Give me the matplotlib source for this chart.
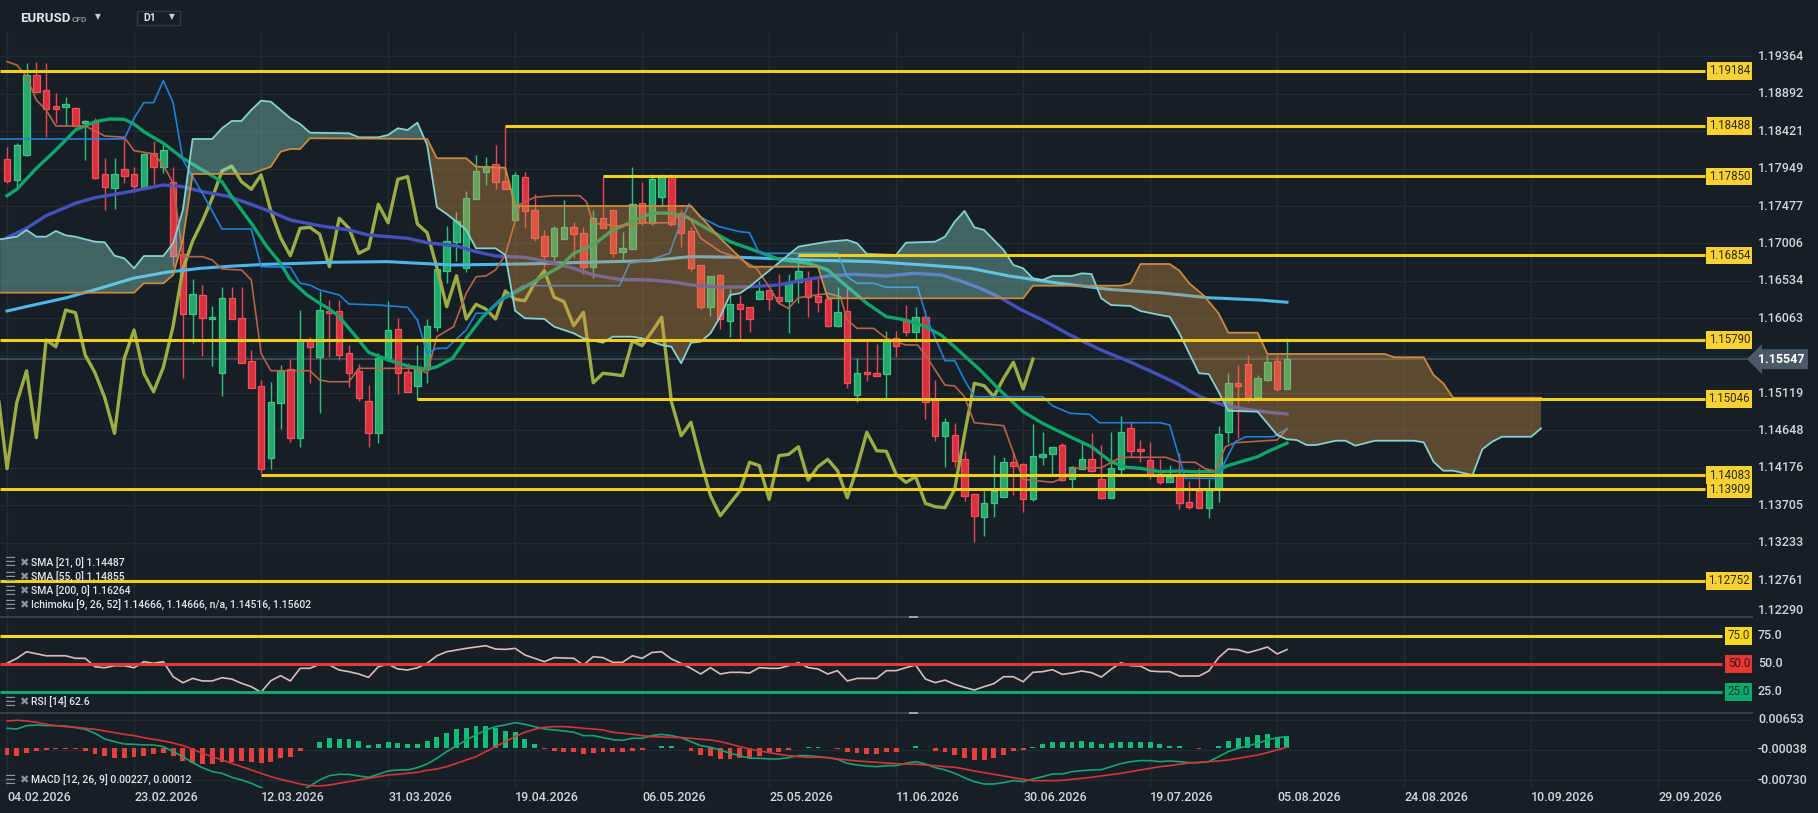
import numpy as np
import matplotlib
matplotlib.use("Agg")
import matplotlib.pyplot as plt
from matplotlib.patches import Rectangle
from matplotlib.transforms import blended_transform_factory

plt.rcParams["font.family"] = ["Roboto", "DejaVu Sans"]

W, H = 1818, 813
BG = "#171f26"
GRID = "#212b33"
TXT = "#d2d6da"

# ---------------- data ----------------
opens = [1.18071, 1.17810, 1.18125, 1.19130, 1.18937, 1.18739, 1.18730, 1.18710, 1.18521, 1.18537,
         1.17878, 1.17709, 1.17945, 1.17882, 1.17721, 1.18143, 1.17974, 1.17781, 1.16873, 1.16112,
         1.16352, 1.16049, 1.15368, 1.16314, 1.16062, 1.15523, 1.15208, 1.14296, 1.14990, 1.15418,
         1.14556, 1.15788, 1.15577, 1.16154, 1.16154, 1.15620, 1.15397, 1.15019, 1.14619, 1.15557,
         1.15923, 1.15381, 1.15212, 1.15418, 1.15948, 1.16662, 1.17020, 1.16692, 1.17562, 1.17903,
         1.18011, 1.17793, 1.17301, 1.17840, 1.17428, 1.17100, 1.16851, 1.17058, 1.17209, 1.17134,
         1.16712, 1.17323, 1.17428, 1.16902, 1.16932, 1.17512, 1.17267, 1.17595, 1.17856, 1.17393,
         1.17163, 1.16734, 1.16208, 1.16608, 1.16031, 1.16238, 1.16200, 1.16301, 1.16419, 1.16327,
         1.16284, 1.16516, 1.16545, 1.16343, 1.16305, 1.15968, 1.16154, 1.15094, 1.15388, 1.15368,
         1.15355, 1.15809, 1.16028, 1.15893, 1.16074, 1.15031, 1.14581, 1.14590, 1.14283, 1.13842,
         1.13559, 1.13728, 1.13812, 1.14246, 1.14224, 1.13779, 1.14316, 1.14346, 1.14460, 1.14031,
         1.14161, 1.14283, 1.14031, 1.13799, 1.14161, 1.14674, 1.14410, 1.14275, 1.14094, 1.13993,
         1.14094, 1.13741, 1.13884, 1.13673, 1.13909, 1.14631, 1.15242, 1.15481, 1.15073, 1.15283,
         1.15523, 1.15170]
highs = [1.18226, 1.18269, 1.19278, 1.19290, 1.19278, 1.18899, 1.18849, 1.18723, 1.18563, 1.18584,
         1.18080, 1.18080, 1.18344, 1.17966, 1.18134, 1.18302, 1.18269, 1.17966, 1.17071, 1.16554,
         1.16482, 1.16217, 1.16453, 1.16453, 1.16453, 1.15662, 1.15283, 1.15262, 1.15473, 1.15545,
         1.16166, 1.15830, 1.16410, 1.16292, 1.16292, 1.15725, 1.15485, 1.15220, 1.15628, 1.16280,
         1.16062, 1.15494, 1.15725, 1.16049, 1.16683, 1.17230, 1.17406, 1.17667, 1.18121, 1.18100,
         1.18247, 1.18488, 1.17911, 1.17911, 1.17629, 1.17175, 1.17226, 1.17554, 1.17280, 1.17209,
         1.17428, 1.17850, 1.17428, 1.17154, 1.17966, 1.17784, 1.17882, 1.17882, 1.17882, 1.17428,
         1.17217, 1.16734, 1.16599, 1.16620, 1.16427, 1.16356, 1.16200, 1.16532, 1.16419, 1.16620,
         1.16620, 1.16854, 1.16662, 1.16566, 1.16343, 1.16460, 1.16460, 1.15557, 1.15788, 1.15738,
         1.15901, 1.15901, 1.16229, 1.16208, 1.16166, 1.15284, 1.14808, 1.14737, 1.14388, 1.13842,
         1.13884, 1.14338, 1.14309, 1.14379, 1.14240, 1.14725, 1.14624, 1.14442, 1.14485, 1.14199,
         1.14505, 1.14611, 1.14464, 1.14624, 1.14829, 1.14758, 1.14527, 1.14498, 1.14287, 1.14211,
         1.14359, 1.14010, 1.14177, 1.14035, 1.14707, 1.15368, 1.15473, 1.15599, 1.15347, 1.15599,
         1.15599, 1.15809]
lows = [1.17764, 1.17701, 1.18109, 1.18899, 1.18344, 1.18529, 1.18487, 1.18478, 1.18058, 1.17818,
        1.17428, 1.17440, 1.17764, 1.17658, 1.17721, 1.17743, 1.17898, 1.16725, 1.15312, 1.15754,
        1.15590, 1.15464, 1.15085, 1.16049, 1.15502, 1.15186, 1.14114, 1.14157, 1.14666, 1.14505,
        1.14442, 1.15249, 1.14864, 1.15577, 1.15536, 1.15199, 1.15022, 1.14442, 1.14485, 1.15557,
        1.15103, 1.15136, 1.15046, 1.15249, 1.15905, 1.16503, 1.16784, 1.16649, 1.17562, 1.17743,
        1.17689, 1.17689, 1.17301, 1.17204, 1.17040, 1.16700, 1.16784, 1.17058, 1.16818, 1.16620,
        1.16566, 1.17197, 1.16831, 1.16775, 1.16932, 1.17238, 1.17238, 1.17491, 1.17226, 1.16965,
        1.16658, 1.16179, 1.16094, 1.15927, 1.15830, 1.15775, 1.15893, 1.16301, 1.16166, 1.16242,
        1.15872, 1.16258, 1.16074, 1.16145, 1.15956, 1.15956, 1.15179, 1.15010, 1.15275, 1.15338,
        1.15053, 1.15577, 1.15842, 1.15759, 1.14788, 1.14518, 1.14190, 1.14190, 1.13761, 1.13244,
        1.13320, 1.13552, 1.13812, 1.13833, 1.13622, 1.13761, 1.14211, 1.14094, 1.14010, 1.13925,
        1.14161, 1.14127, 1.13779, 1.13791, 1.14094, 1.14309, 1.14253, 1.14031, 1.13972, 1.13993,
        1.13653, 1.13653, 1.13665, 1.13539, 1.13749, 1.14485, 1.14556, 1.15010, 1.15060, 1.15271,
        1.15149, 1.15170]
closes = [1.17797, 1.18244, 1.19130, 1.18920, 1.18705, 1.18705, 1.18764, 1.18491, 1.18550, 1.17835,
          1.17721, 1.17878, 1.17860, 1.17730, 1.18134, 1.17974, 1.18184, 1.16851, 1.16112, 1.16364,
          1.16062, 1.16078, 1.16314, 1.16049, 1.15502, 1.15186, 1.14165, 1.15002, 1.15401, 1.14556,
          1.15788, 1.15703, 1.16166, 1.16132, 1.15599, 1.15376, 1.15060, 1.14611, 1.15557, 1.15914,
          1.15368, 1.15136, 1.15444, 1.15965, 1.16683, 1.17037, 1.17289, 1.17575, 1.17919, 1.17982,
          1.17784, 1.17689, 1.17869, 1.17415, 1.17078, 1.16851, 1.17197, 1.17209, 1.17121, 1.16712,
          1.17323, 1.17197, 1.16881, 1.16944, 1.17499, 1.17267, 1.17815, 1.17848, 1.17251, 1.17141,
          1.16700, 1.16208, 1.16599, 1.16053, 1.16238, 1.16179, 1.16053, 1.16406, 1.16301, 1.16284,
          1.16503, 1.16662, 1.16327, 1.16271, 1.15968, 1.16137, 1.15249, 1.15368, 1.15355, 1.15338,
          1.15775, 1.15716, 1.15893, 1.16074, 1.15010, 1.14581, 1.14750, 1.14266, 1.13824, 1.13572,
          1.13728, 1.13884, 1.14246, 1.14203, 1.13779, 1.14329, 1.14346, 1.14442, 1.14022, 1.14190,
          1.14283, 1.14140, 1.13799, 1.14177, 1.14624, 1.14392, 1.14384, 1.14094, 1.13993, 1.14064,
          1.13728, 1.13686, 1.13673, 1.13909, 1.14599, 1.15242, 1.15212, 1.15073, 1.15305, 1.15507,
          1.15170, 1.15547]

sma21_x = [0, 1, 3, 5, 7, 9, 10.5, 12, 13, 14, 16, 18, 20, 22, 23, 25, 26.6, 28, 29, 30.7,
           32, 33, 34, 36, 37, 39, 41, 43, 44, 45.6, 47, 48.7, 50.5, 52.5, 54.5, 56.6, 58, 60, 62, 64,
           66, 68, 69.5, 71.6, 74, 76.4, 79, 82, 84, 86, 88, 90, 92, 94, 95.6, 97, 99.6, 101.6, 104, 106,
           108.8, 111, 113, 114.6, 116, 118, 120, 121.4, 123.8, 124.8, 128, 129, 131]
sma21 = [1.17608, 1.17689, 1.17953, 1.18184, 1.18436, 1.18541, 1.18575, 1.18571, 1.18512, 1.18415,
         1.18269, 1.18080, 1.17932, 1.17784, 1.17595, 1.17260, 1.16965, 1.16755, 1.16545, 1.16356,
         1.16251, 1.16178, 1.16082, 1.15788, 1.15633, 1.15536, 1.15460, 1.15418, 1.15451, 1.15557,
         1.15809, 1.16082, 1.16292, 1.16419, 1.16566, 1.16712, 1.16881, 1.16986, 1.17175, 1.17280,
         1.17390, 1.17386, 1.17343, 1.17197, 1.17028, 1.16923, 1.16806, 1.16755, 1.16671, 1.16460,
         1.16251, 1.16082, 1.16040, 1.15956, 1.15851, 1.15700, 1.15409, 1.15157, 1.14884, 1.14737,
         1.14568, 1.14442, 1.14253, 1.14182, 1.14170, 1.14127, 1.14136, 1.14127, 1.14127, 1.14199,
         1.14316, 1.14379, 1.14487]

sma55_x = [0, 2, 4, 7, 9, 12, 16, 18, 20, 22.5, 24.5, 27, 29, 32, 35, 37, 41, 43, 46, 48,
           50, 53, 55, 58, 60, 62.6, 65.7, 68, 70, 73, 76, 79, 81, 84, 86.6, 90, 92.8, 95.6, 97.5, 99.6,
           101.6, 103.7, 106, 108.8, 111.8, 114.9, 117.3, 119.7, 122.1, 124.5, 126.8, 129.2, 131]
sma55 = [1.17078, 1.17197, 1.17356, 1.17512, 1.17583, 1.17646, 1.17743, 1.17722, 1.17658, 1.17604,
         1.17520, 1.17406, 1.17301, 1.17229, 1.17175, 1.17112, 1.17071, 1.17015, 1.16974, 1.16902,
         1.16847, 1.16831, 1.16784, 1.16692, 1.16608, 1.16553, 1.16545, 1.16523, 1.16482, 1.16453,
         1.16460, 1.16482, 1.16532, 1.16595, 1.16617, 1.16595, 1.16629, 1.16608, 1.16536, 1.16440,
         1.16327, 1.16175, 1.16040, 1.15851, 1.15671, 1.15514, 1.15381, 1.15242, 1.15073, 1.14968,
         1.14914, 1.14876, 1.14855]

sma200_x = [0, 2.7, 6.1, 9.5, 12.9, 16.3, 19.8, 23.2, 26.6, 30, 33, 38.9, 45.6, 52.5, 59.3,
            65.8, 69.9, 75, 81.9, 88.7, 93.9, 98.6, 102.6, 107.7, 112.8, 117.9, 123, 128.2, 131]
sma200 = [1.16154, 1.16229, 1.16321, 1.16440, 1.16566, 1.16642, 1.16692, 1.16721, 1.16743, 1.16755,
          1.16768, 1.16776, 1.16734, 1.16746, 1.16768, 1.16788, 1.16839, 1.16831, 1.16797, 1.16776,
          1.16734, 1.16692, 1.16595, 1.16503, 1.16427, 1.16385, 1.16321, 1.16292, 1.16264]

tenkan_x = [0, 1, 2, 3, 4, 5, 8, 10, 12, 13, 15, 16, 17, 18, 20, 21, 22, 24, 25, 26,
            27, 31, 32, 33, 35, 36, 42, 43, 44, 45.7, 47, 48, 49, 50, 51, 52.5, 54, 56, 58.6, 59.3,
            60, 62.7, 65, 68, 69, 70, 71, 73, 75, 76.7, 78, 79, 80, 81, 84, 85.3, 86, 87, 88.7, 90,
            92, 93.2, 94, 95, 96, 97, 98, 99, 102, 104, 107, 108.4, 109.2, 112, 114, 118.6, 120, 121.6,
            122.7, 123.7, 124.7, 125.7, 130, 131]
tenkan = [1.19298, 1.19256, 1.19109, 1.18815, 1.18689, 1.18487, 1.18487, 1.18361, 1.18344, 1.18175,
          1.18134, 1.17995, 1.17764, 1.16839, 1.16839, 1.16797, 1.16683, 1.16671, 1.16545, 1.15620,
          1.15401, 1.15401, 1.15284, 1.15262, 1.15262, 1.15431, 1.15431, 1.15368, 1.15830, 1.15956,
          1.16377, 1.16586, 1.16595, 1.16671, 1.16860, 1.17499, 1.17588, 1.17608, 1.17608, 1.17532,
          1.17260, 1.17226, 1.17264, 1.17267, 1.17386, 1.17301, 1.17071, 1.16902, 1.16818, 1.16692,
          1.16460, 1.16251, 1.16188, 1.16321, 1.16377, 1.16334, 1.16040, 1.15935, 1.15935, 1.15809,
          1.15725, 1.15725, 1.15599, 1.15410, 1.15220, 1.15208, 1.15073, 1.14745, 1.14707, 1.14031,
          1.13993, 1.14064, 1.14170, 1.14177, 1.14309, 1.14309, 1.14246, 1.14246, 1.14161, 1.14136,
          1.14442, 1.14493, 1.14527, 1.14666]

kijun_x = [-0.7, 12, 13, 14, 15, 16, 17, 18, 19, 20, 22, 25, 26, 29, 30, 31, 32, 34, 35, 38,
           41, 42, 43, 44, 45, 47, 48, 49, 50, 51, 52.8, 62.7, 63.7, 65.8, 66.8, 67.8, 68.8, 69.8, 70.9, 72.9,
           75, 76, 77, 85, 86, 87, 88.7, 90, 93.2, 94.2, 96, 97, 98, 99, 106, 107, 108.8, 110.8, 111.8, 118,
           119, 120.6, 123.8, 125.7, 126.8, 129.6, 131]
kijun = [1.18323, 1.18323, 1.18584, 1.18781, 1.18781, 1.19058, 1.18781, 1.18058, 1.17848, 1.17638,
         1.17188, 1.17188, 1.16712, 1.16705, 1.16503, 1.16482, 1.16419, 1.16356, 1.16242, 1.16229,
         1.16200, 1.16040, 1.15620, 1.15683, 1.15683, 1.15914, 1.16125, 1.16125, 1.16229, 1.16334,
         1.16473, 1.16473, 1.16755, 1.16797, 1.16839, 1.16881, 1.17217, 1.17503, 1.17343, 1.17217,
         1.17154, 1.17141, 1.16881, 1.16881, 1.16586, 1.16503, 1.16503, 1.16453, 1.16453, 1.16040,
         1.15527, 1.15527, 1.15284, 1.15073, 1.15073, 1.14959, 1.14864, 1.14851, 1.14745, 1.14745,
         1.14716, 1.14044, 1.14044, 1.14505, 1.14568, 1.14568, 1.14666]

span_a_x = [-0.7, 1, 2, 3, 4, 5, 6, 7, 8, 9, 10, 11, 12, 13, 14, 16, 17, 18, 19, 21,
            22, 23, 24, 25, 26, 27, 28, 29, 30, 31, 35, 36, 38, 39, 40, 41, 42, 43, 44, 45,
            46, 47, 48, 50, 51, 52, 53, 55, 56, 58, 59, 61, 62, 64, 65, 67, 68, 69, 70, 71,
            72, 73, 74, 75, 76, 81, 84, 86, 87, 88, 91, 92, 95, 96, 97, 98, 99, 100, 101, 102,
            103, 104, 105, 106, 107, 109, 110, 111, 112, 113, 115, 116, 118, 119, 120, 121, 122, 123, 124, 125,
            128, 129, 130, 131, 132, 133, 134, 136, 137, 138, 140, 144, 145, 146, 147, 148, 150, 151, 152, 153,
            156, 157]
span_a = [1.17058, 1.17091, 1.17175, 1.17091, 1.17091, 1.17163, 1.17108, 1.17091, 1.17058, 1.17028,
          1.17020, 1.16851, 1.16818, 1.16692, 1.16847, 1.16847, 1.17008, 1.17428, 1.18323, 1.18323,
          1.18458, 1.18550, 1.18550, 1.18689, 1.18806, 1.18793, 1.18689, 1.18584, 1.18512, 1.18402,
          1.18395, 1.18344, 1.18344, 1.18373, 1.18458, 1.18436, 1.18529, 1.18247, 1.17462, 1.17377,
          1.17280, 1.17175, 1.16944, 1.16944, 1.16860, 1.16158, 1.16062, 1.16053, 1.15956, 1.15872,
          1.15809, 1.15754, 1.15830, 1.15830, 1.15809, 1.15725, 1.15703, 1.15494, 1.15754, 1.15767,
          1.15872, 1.16082, 1.16356, 1.16377, 1.16460, 1.16965, 1.17028, 1.17049, 1.17008, 1.16873,
          1.16860, 1.17015, 1.17028, 1.17091, 1.17280, 1.17415, 1.17209, 1.17175, 1.17049, 1.16923,
          1.16734, 1.16692, 1.16566, 1.16545, 1.16595, 1.16595, 1.16629, 1.16620, 1.16314, 1.16229,
          1.16217, 1.16154, 1.16103, 1.16082, 1.15872, 1.15620, 1.15368, 1.15359, 1.15136, 1.14896,
          1.14884, 1.14737, 1.14590, 1.14536, 1.14527, 1.14464, 1.14464, 1.14518, 1.14518, 1.14455,
          1.14518, 1.14518, 1.14498, 1.14253, 1.14140, 1.14140, 1.14085, 1.14410, 1.14505, 1.14568,
          1.14568, 1.14674]

span_b_x = [-0.7, 13, 14, 16, 17, 18, 19, 25, 27, 28, 29, 30, 31, 43, 44, 47, 48, 51, 52, 70,
            73, 76, 83, 84, 104, 105, 114, 115, 116, 119, 120, 121, 122.5, 124, 125, 128, 129, 141, 142, 145,
            146, 147, 148, 157]
span_b = [1.16385, 1.16385, 1.16503, 1.16503, 1.16608, 1.17049, 1.17882, 1.17882, 1.17974, 1.18163,
          1.18197, 1.18197, 1.18332, 1.18323, 1.18080, 1.18080, 1.17974, 1.17961, 1.17478, 1.17478,
          1.17071, 1.16712, 1.16712, 1.16314, 1.16314, 1.16473, 1.16473, 1.16503, 1.16746, 1.16746,
          1.16662, 1.16503, 1.16347, 1.16125, 1.15880, 1.15880, 1.15612, 1.15612, 1.15570, 1.15570,
          1.15347, 1.15242, 1.15060, 1.15060]

levels = [1.19184, 1.18488, 1.17850, 1.16854, 1.15790, 1.15046, 1.14083, 1.13909, 1.12752]
level_start = [None, 51, 61, 81, None, 42, 26, None, None]
last_price = 1.15547

price_ticks = [1.19364, 1.18892, 1.18421, 1.17949, 1.17477, 1.17006, 1.16534, 1.16063,
               1.15591, 1.15119, 1.14648, 1.14176, 1.13705, 1.13233, 1.12761, 1.12290]
price_tick_shown = [True] * 8 + [False] + [True] * 7

rsi = [50.4, 54.8, 60.7, 58.9, 57.1, 57.1, 57.1, 54.8, 54.8, 47.3,
       46.4, 48.2, 48.2, 46.4, 51.8, 50.4, 51.8, 38.4, 33.0, 36.9,
       34.6, 34.6, 37.5, 36.3, 32.5, 29.5, 24.5, 34.8, 39.3, 34.6,
       45.9, 45.9, 49.5, 48.8, 44.4, 42.9, 40.8, 37.8, 47.3, 49.5,
       45.3, 44.4, 46.4, 50.4, 57.1, 60.7, 62.2, 63.7, 64.9, 66.1,
       63.1, 62.8, 63.7, 57.8, 54.8, 51.8, 55.4, 55.1, 54.8, 48.8,
       56.3, 55.4, 51.2, 51.2, 57.1, 54.8, 60.0, 60.7, 54.2, 50.3,
       45.9, 40.8, 46.5, 40.8, 42.3, 42.3, 41.7, 46.5, 45.9, 45.9,
       48.2, 50.9, 46.5, 45.3, 40.8, 43.8, 34.6, 36.9, 36.9, 36.9,
       43.8, 43.8, 46.5, 48.8, 36.3, 33.1, 35.4, 31.6, 28.9, 26.5,
       29.5, 32.2, 38.4, 38.4, 33.9, 42.3, 42.9, 44.7, 40.5, 41.7,
       43.5, 42.0, 38.1, 45.0, 50.9, 48.2, 47.9, 43.5, 42.9, 42.9,
       39.0, 39.0, 39.0, 43.5, 55.4, 63.1, 62.5, 59.8, 62.2, 64.9,
       58.7, 62.6]
rsi_levels = [75, 50, 25]

# MACD values in units of 1e-5
macd_line = [455, 439, 515, 530, 515, 515, 508, 470, 432, 341,
             212, 152, 98, 91, 76, 76, 38, -76, -189, -326,
             -439, -530, -568, -659, -720, -795, -894, -985, -1061, -1076,
             -985, -856, -720, -621, -591, -591, -629, -659, -591, -515,
             -492, -492, -439, -356, -227, -76, 53, 189, 303, 417,
             492, 530, 583, 545, 492, 439, 417, 394, 364, 288,
             288, 242, 197, 182, 227, 227, 288, 318, 288, 242,
             152, 61, 23, -38, -114, -167, -227, -227, -242, -242,
             -212, -167, -167, -189, -212, -250, -341, -379, -402, -417,
             -394, -394, -341, -303, -356, -439, -492, -568, -667, -758,
             -811, -811, -780, -735, -758, -697, -644, -583, -583, -530,
             -508, -492, -485, -417, -348, -303, -280, -280, -303, -288,
             -303, -326, -326, -303, -189, -76, 0, 53, 114, 189,
             242, 265]
macd_signal = [621, 636, 621, 591, 545, 515, 492, 477, 455, 432,
               394, 356, 318, 288, 242, 205, 167, 121, 61, -23,
               -114, -189, -265, -341, -417, -492, -568, -644, -705, -758,
               -811, -848, -856, -833, -795, -758, -720, -682, -644, -606,
               -591, -568, -545, -500, -470, -417, -341, -265, -189, -76,
               38, 152, 265, 364, 432, 477, 492, 492, 477, 455,
               439, 417, 364, 341, 318, 288, 265, 258, 250, 242,
               227, 205, 189, 152, 98, 38, -15, -61, -98, -136,
               -167, -189, -205, -205, -212, -242, -265, -288, -303, -318,
               -333, -348, -356, -364, -379, -394, -417, -432, -470, -515,
               -553, -591, -629, -667, -705, -735, -735, -735, -727, -705,
               -682, -659, -629, -598, -568, -530, -492, -455, -417, -394,
               -364, -333, -318, -303, -288, -265, -227, -189, -152, -98,
               -38, 23]
macd_hist = [-152, -167, -98, -53, -30, -15, -15, -23, -53, -129,
             -174, -212, -212, -189, -167, -136, -114, -174, -280, -326,
             -356, -364, -318, -303, -280, -303, -341, -303, -227, -189,
             -61, 10, 136, 227, 212, 212, 167, 76, 106, 136,
             121, 98, 106, 167, 258, 348, 439, 470, 508, 508,
             470, 394, 364, 212, 98, -8, -61, -76, -91, -136,
             -114, -91, -91, -83, -53, -45, 0, 53, 53, 0,
             -53, -152, -174, -242, -242, -227, -212, -167, -114, -76,
             -30, 0, 23, 23, 0, -15, -76, -114, -136, -136,
             -91, -76, 0, 45, 0, -61, -76, -152, -212, -265,
             -265, -212, -152, -61, -38, 23, 91, 152, 152, 152,
             167, 136, 91, 114, 136, 152, 152, 136, 91, 61,
             45, 0, -15, 0, 61, 167, 242, 265, 303, 326,
             265, 288]
macd_ticks = [0.00653, -0.00038, -0.00730]

date_labels = ["04.02.2026", "23.02.2026", "12.03.2026", "31.03.2026", "19.04.2026",
               "06.05.2026", "25.05.2026", "11.06.2026", "30.06.2026", "19.07.2026",
               "05.08.2026", "24.08.2026", "10.09.2026", "29.09.2026"]
legend_main = ["SMA [21, 0] 1.14487", "SMA [55, 0] 1.14855", "SMA [200, 0] 1.16264",
               "Ichimoku [9, 26, 52] 1.14666, 1.14666, n/a, 1.14516, 1.15602"]

# ---------------- figure ----------------
fig = plt.figure(figsize=(W / 100, H / 100), dpi=100, facecolor=BG)
AX_R = 1752


def frame(top, bottom):
    return [0, 1 - bottom / H, AX_R / W, (bottom - top) / H]


ax = fig.add_axes(frame(32, 617))
ax_rsi = fig.add_axes(frame(617, 713))
ax_macd = fig.add_axes(frame(713, 788))

XMIN, XMAX = -0.72, 178.6
LINE_END = XMIN + (1705 / AX_R) * (XMAX - XMIN)
RSI_END = XMIN + (1722 / AX_R) * (XMAX - XMIN)

for a in (ax, ax_rsi, ax_macd):
    a.set_facecolor(BG)
    a.set_xlim(XMIN, XMAX)
    a.set_xticks([])
    a.set_yticks([])
    for s in a.spines.values():
        s.set_visible(False)
    for k in range(len(date_labels)):
        a.axvline(13 * k, color=GRID, lw=1, zorder=0)

for a in (ax_rsi, ax_macd):
    a.spines["top"].set_visible(True)
    a.spines["top"].set_color("#39444e")
    a.spines["top"].set_linewidth(1.3)

ax.set_ylim(1.12295, 1.19672)
ax_rsi.set_ylim(6.0, 91.7)
ax_macd.set_ylim(-0.00902, 0.00802)

ytf = ax.get_yaxis_transform()
for p, show in zip(price_ticks, price_tick_shown):
    ax.axhline(p, color=GRID, lw=1, zorder=0)
    if show:
        va = "bottom" if p == price_ticks[-1] else "center"
        ax.text(1.0034, p, f"{p:.5f}", transform=ytf, ha="left", va=va,
                color=TXT, fontsize=9, fontweight="medium", clip_on=False)

# candles
x = np.arange(len(opens))
o, hi, lo, c = (np.array(v) for v in (opens, highs, lows, closes))
up = c >= o
ax.vlines(x, lo, hi, colors=np.where(up, "#2fbf7d", "#ec4353"), lw=1, zorder=3)
ax.bar(x, np.maximum(np.abs(c - o), 0.00004), bottom=np.minimum(o, c), width=0.66,
       color=np.where(up, "#26a86c", "#d9323f"), edgecolor=np.where(up, "#38c785", "#f2505c"),
       lw=0.9, zorder=4)

# moving averages and ichimoku lines
ax.plot(x - 26, closes, color="#9cad46", lw=2.4, zorder=5)
ax.plot(sma200_x, sma200, color="#4db6ea", lw=2.2, zorder=5)
ax.plot(sma55_x, sma55, color="#4750bd", lw=2.4, zorder=5)
ax.plot(sma21_x, sma21, color="#0fa66b", lw=2.4, zorder=5)
ax.plot(tenkan_x, tenkan, color="#b8624b", lw=1.2, zorder=5)
ax.plot(kijun_x, kijun, color="#1f80da", lw=1.2, zorder=5)

# cloud
cx = np.union1d(span_a_x, span_b_x)
ya = np.interp(cx, span_a_x, span_a)
yb = np.interp(cx, span_b_x, span_b)
ax.fill_between(cx, ya, yb, where=ya >= yb, interpolate=True, color="#8cdfd2", alpha=0.36, lw=0, zorder=7)
ax.fill_between(cx, ya, yb, where=ya < yb, interpolate=True, color="#dc9646", alpha=0.36, lw=0, zorder=7)
ax.plot(span_a_x, span_a, color="#86d0cf", lw=1.3, zorder=8)
ax.plot(span_b_x, span_b, color="#c98a3c", lw=1.3, zorder=8)

# current price
ax.axhline(last_price, color="#44525d", lw=1.2, zorder=2.6)
ax.text(1.0034, last_price, f"{last_price:.5f}", transform=ytf, ha="left", va="center",
        color="white", fontsize=9, fontweight="bold", clip_on=False, zorder=20,
        bbox=dict(boxstyle="larrow,pad=0.28", fc="#4a5965", ec="none"))

# horizontal levels with tags
for p, s in zip(levels, level_start):
    x0 = XMIN if s is None else s
    ax.plot([x0, LINE_END], [p, p], color="#f2cf1f", lw=2.2, zorder=9, solid_capstyle="butt")
    ax.text(0.9989, p, f"{p:.5f}", transform=ytf, ha="right", va="center", color="#2c2a22",
            fontsize=8.3, zorder=12, clip_on=False,
            bbox=dict(boxstyle="square,pad=0.2", fc="#f7d232", ec="none"))

# RSI panel
rtf = ax_rsi.get_yaxis_transform()
ax_rsi.plot(x, rsi, color="#d9bdb8", lw=1.2, zorder=3)
for lev, col, tc in zip(rsi_levels, ["#f4d81f", "#e53935", "#0ba86f"], ["#3a3520", "#3a1414", "#123a2a"]):
    ax_rsi.plot([XMIN, RSI_END], [lev, lev], color=col, lw=2.2, zorder=4, solid_capstyle="butt")
    ax_rsi.text(0.9989, lev, f"{lev:.1f}", transform=rtf, ha="right", va="center", color=tc,
                fontsize=8.3, zorder=12, clip_on=False,
                bbox=dict(boxstyle="square,pad=0.2", fc=col, ec="none"))
    ax_rsi.text(1.0034, lev, f"{lev:.1f}", transform=rtf, ha="left", va="center",
                color=TXT, fontsize=9, fontweight="medium", clip_on=False)

# MACD panel
mtf = ax_macd.get_yaxis_transform()
hist = np.array(macd_hist) * 1e-5
ax_macd.bar(x, hist, width=0.5, color=np.where(hist >= 0, "#10bd78", "#e8403a"), lw=0, zorder=3)
ax_macd.plot(x, np.array(macd_line) * 1e-5, color="#13a46f", lw=1.2, zorder=4)
ax_macd.plot(x, np.array(macd_signal) * 1e-5, color="#d3343a", lw=1.2, zorder=4)
for v in macd_ticks:
    ax_macd.axhline(v, color=GRID, lw=1, zorder=0)
    ax_macd.text(1.0034, v, f"{v:.5f}", transform=mtf, ha="left", va="center",
                 color=TXT, fontsize=9, fontweight="medium", clip_on=False)

# date labels
dtf = blended_transform_factory(ax_macd.transData, ax_macd.transAxes)
for k, lab in enumerate(date_labels):
    ax_macd.text(13 * k, -0.12, lab, transform=dtf, ha="left", va="center",
                 color=TXT, fontsize=9, fontweight="medium", clip_on=False)


# ---------------- annotations ----------------
def fxy(px, py):
    return px / W, 1 - py / H


def legend_row(py, text):
    fig.text(*fxy(5, py), "\u2630", fontsize=9, color="#8c949b", va="center", family=["DejaVu Sans"])
    fig.text(*fxy(19, py), "\u2716", fontsize=8, color="#8c949b", va="center", family=["DejaVu Sans"])
    fig.text(*fxy(31, py), text, fontsize=7.5, color="#e4e6e8", va="center", fontweight="medium")


for py, t in zip([563, 577, 591, 605], legend_main):
    legend_row(py, t)
legend_row(702, "RSI [14] 62.6")
legend_row(780, "MACD [12, 26, 9] 0.00227, 0.00012")

fig.text(*fxy(20, 18), "EURUSD", fontsize=9.5, fontweight="bold", color="#e2e4e6", va="center")
fig.text(*fxy(72, 19), "CFD", fontsize=6, fontweight="bold", color="#8a9299", va="center")
fig.text(*fxy(95, 17), "\u25BC", fontsize=5.5, color="#c8ccd0", va="center", family=["DejaVu Sans"])
fig.patches.append(Rectangle(fxy(137, 25), 43 / W, 14 / H, transform=fig.transFigure,
                             fill=False, ec="#2f3a44", lw=1))
fig.text(*fxy(143, 18), "D1", fontsize=7.5, fontweight="bold", color="#e2e4e6", va="center")
fig.text(*fxy(169, 17), "\u25BC", fontsize=5.5, color="#c8ccd0", va="center", family=["DejaVu Sans"])

for py in (617, 713):
    fig.patches.append(Rectangle(fxy(909, py + 1), 9 / W, 2.5 / H, transform=fig.transFigure,
                                 fc="#9ca5ad", ec="none"))

fig.savefig("out.png", dpi=100, facecolor=BG)
